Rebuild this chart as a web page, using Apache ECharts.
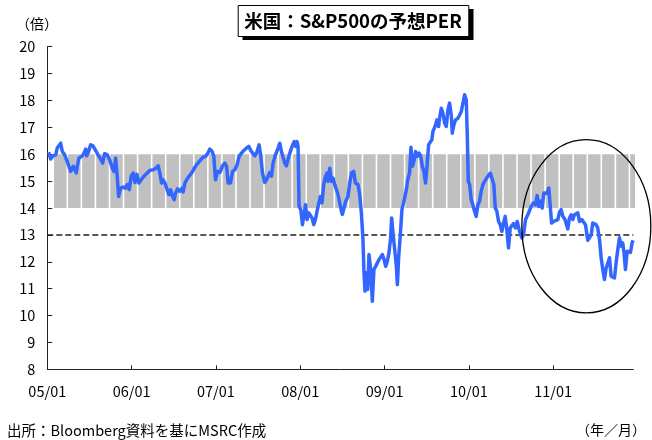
<!DOCTYPE html>
<html><head><meta charset="utf-8">
<script src="https://cdn.jsdelivr.net/npm/echarts@6/dist/echarts.min.js"></script>
<style>html,body{margin:0;padding:0;background:#fff}#c{width:652px;height:440px}</style>
</head><body><div id="c"></div><script>
// time as decimal year (weekly-ish readings)
const t = [
2005.017,2005.040,2005.068,2005.100,2005.118,2005.159,2005.178,2005.206,2005.237,2005.277,2005.308,2005.344,2005.355,2005.376,2005.415,2005.435,2005.455,2005.467,2005.486,2005.514,2005.541,2005.573,2005.601,2005.633,2005.656,2005.680,2005.711,2005.739,2005.770,2005.790,2005.810,2005.829,2005.846,2005.870,2005.900,2005.924,2005.948,2005.972,2005.995,
2006.019,2006.039,2006.063,2006.086,2006.114,2006.146,2006.185,2006.217,2006.256,2006.288,2006.315,2006.335,2006.355,2006.374,2006.395,2006.415,2006.442,2006.462,2006.481,2006.505,2006.521,2006.545,2006.572,2006.600,2006.611,2006.632,2006.652,2006.682,2006.711,2006.738,2006.770,2006.797,2006.817,2006.848,2006.877,2006.900,2006.928,2006.955,2006.975,2006.995,
2007.019,2007.046,2007.078,2007.105,2007.126,2007.145,2007.173,2007.197,2007.224,2007.251,2007.275,2007.303,2007.331,2007.363,2007.390,2007.413,2007.433,2007.461,2007.481,2007.512,2007.532,2007.552,2007.579,2007.600,2007.618,2007.639,2007.659,2007.678,2007.706,2007.737,2007.757,2007.777,2007.796,2007.816,2007.836,2007.855,2007.876,2007.903,2007.927,2007.947,2007.962,2007.974,2007.986,
2008.006,2008.026,2008.042,2008.062,2008.081,2008.101,2008.121,2008.140,2008.160,2008.180,2008.199,2008.219,2008.239,2008.258,2008.278,2008.299,2008.318,2008.329,2008.350,2008.370,2008.389,2008.409,2008.429,2008.448,2008.468,2008.488,2008.500,2008.519,2008.539,2008.566,2008.587,2008.607,2008.634,2008.654,2008.685,2008.705,2008.725,2008.744,2008.756,2008.768,2008.784,2008.800,2008.815,2008.835,2008.855,2008.874,2008.894,2008.914,2008.934,2008.954,2008.974,2008.993,
2009.013,2009.033,2009.052,2009.072,2009.084,2009.100,2009.120,2009.140,2009.152,2009.167,2009.187,2009.206,2009.230,2009.258,2009.277,2009.297,2009.313,2009.329,2009.348,2009.368,2009.388,2009.408,2009.427,2009.447,2009.467,2009.486,2009.502,2009.522,2009.542,2009.561,2009.573,2009.593,2009.605,2009.621,2009.641,2009.652,2009.673,2009.692,2009.712,2009.732,2009.751,2009.771,2009.791,2009.803,2009.822,2009.842,2009.870,2009.890,2009.910,2009.929,2009.949,2009.969,2009.981,2009.993,
2010.009,2010.028,2010.047,2010.067,2010.087,2010.107,2010.126,2010.146,2010.166,2010.186,2010.206,2010.225,2010.254,2010.277,2010.296,2010.313,2010.332,2010.352,2010.372,2010.391,2010.411,2010.431,2010.450,2010.470,2010.490,2010.509,2010.529,2010.553,2010.573,2010.601,2010.628,2010.648,2010.672,2010.699,2010.719,2010.739,2010.766,2010.790,2010.810,2010.829,2010.849,2010.869,2010.889,2010.908,2010.928,2010.948,2010.964,2010.981,
2011.005,2011.028,2011.055,2011.075,2011.095,2011.114,2011.140,2011.173,2011.193,2011.213,2011.232,2011.252,2011.273,2011.292,2011.312,2011.339,2011.359,2011.383,2011.410,2011.431,2011.451,2011.469,2011.490,2011.509,2011.528,2011.549,2011.569,2011.588,2011.608,2011.628,2011.648,2011.668,2011.687,2011.707,2011.727,2011.746,2011.766,2011.786,2011.806,2011.825,2011.841,2011.857,2011.877,2011.896,2011.916,2011.936,2011.948
];
// forward PER (times)
const per = [
16.07,15.82,15.94,15.98,16.23,16.41,16.10,15.98,15.73,15.36,15.55,15.30,15.55,15.86,15.94,16.04,16.19,15.94,16.07,16.35,16.31,16.14,15.98,15.82,15.67,16.02,15.98,15.79,15.49,15.36,15.86,15.18,14.43,14.74,14.78,14.74,14.87,14.68,15.18,
15.30,14.95,15.25,14.93,15.05,15.18,15.30,15.40,15.42,15.48,15.57,15.30,14.93,15.05,14.93,14.74,14.50,14.68,14.46,14.31,14.56,14.71,14.62,14.74,14.60,14.93,15.05,15.18,15.30,15.45,15.61,15.71,15.68,15.89,15.92,16.02,16.19,16.10,15.92,15.05,
15.36,15.32,15.57,15.67,15.55,14.93,14.93,15.36,15.42,15.61,15.92,16.04,16.14,16.23,16.29,16.14,16.19,15.94,16.04,16.35,15.92,15.30,14.95,15.05,15.18,15.32,15.18,15.67,15.98,16.23,16.41,16.10,16.14,15.67,15.57,15.80,16.04,16.29,16.47,16.29,16.47,16.29,14.06,
13.94,13.38,13.69,14.12,13.57,13.82,13.78,13.63,13.38,13.57,13.88,13.82,14.43,14.19,14.87,15.18,15.30,14.99,15.48,14.99,15.11,14.87,14.80,14.50,14.19,13.88,13.76,14.00,14.25,14.43,14.93,15.30,15.36,14.93,14.87,14.50,13.82,12.83,11.59,10.91,11.59,10.97,12.27,11.71,10.53,11.71,11.83,11.83,12.08,12.02,12.27,12.10,
11.83,12.02,12.33,12.89,13.63,13.07,12.45,11.83,11.15,12.15,13.01,13.94,14.25,14.68,15.08,15.30,16.26,15.55,15.73,16.10,15.92,16.04,15.95,15.55,15.36,14.93,15.48,16.35,16.45,16.54,16.84,16.91,17.09,17.28,17.03,17.34,17.71,17.53,17.16,17.03,17.65,17.90,17.46,16.78,17.09,17.28,17.34,17.46,17.59,17.65,18.21,18.02,16.72,14.99,
14.87,14.31,14.12,13.88,13.69,14.12,14.25,14.62,14.87,14.99,15.05,15.18,15.30,15.30,14.87,14.00,13.88,13.50,13.38,13.13,13.44,13.69,13.19,12.52,13.26,13.30,13.42,13.26,13.50,13.13,12.89,13.01,13.57,13.75,13.72,14.06,14.19,14.12,14.46,14.06,14.25,14.00,14.56,14.62,14.55,14.74,14.80,13.44,
13.50,13.44,13.57,13.84,13.94,13.69,13.57,13.22,13.63,13.75,13.57,13.75,13.69,13.82,13.50,13.57,13.50,13.38,12.80,12.76,13.00,13.44,13.50,13.38,13.26,12.83,12.15,11.71,11.34,11.77,11.70,12.15,11.46,11.40,11.40,11.96,12.45,12.89,12.58,12.70,12.30,11.71,12.39,12.45,12.35,12.70,12.80
];
const xTickYears = [2005,2006,2007,2008,2009,2010,2011];
const xTickLabels = ['05/01','06/01','07/01','08/01','09/01','10/01','11/01'];
const yTicks = [8,9,10,11,12,13,14,15,16,17,18,19,20];
const refLevel = 13;
const bandLow = 14, bandHigh = 16;
const bandFirst = 2005.154, bandStep = 1/6, bandCount = 42;   // bimonthly grey columns
const circleNote = [2011.393, 13.32, 0.765, 3.22];           // centre (yr, PER), radii (yr, PER)
const xMin = 2005, xMax = 2011.95;

const lineData = t.map((x, i) => [x, per[i]]);
const bandData = [];
for (let k = 0; k < bandCount; k++) bandData.push([bandFirst + k * bandStep, bandLow, bandHigh]);

const FONT = '"Noto Sans CJK JP", "Liberation Sans", sans-serif';
const chart = echarts.init(document.getElementById('c'), null, {renderer: 'canvas'});
chart.setOption({
  animation: false,
  backgroundColor: '#fff',
  grid: {left: 47.3, right: 18.7, top: 46.7, bottom: 70.7, containLabel: false},
  xAxis: {
    type: 'value', min: xMin, max: xMax, interval: 1,
    axisLine: {show: true, lineStyle: {color: '#222', width: 1}},
    axisTick: {show: true, inside: true, length: 4, lineStyle: {color: '#222'}, customValues: xTickYears},
    axisLabel: {customValues: xTickYears, margin: 15, color: '#000', fontSize: 14.5, fontFamily: FONT,
      formatter: v => { const i = xTickYears.indexOf(Math.round(v)); return i >= 0 ? xTickLabels[i] : ''; }},
    splitLine: {show: false}
  },
  yAxis: {
    type: 'value', min: 8, max: 20, interval: 1,
    axisLine: {show: true, lineStyle: {color: '#222', width: 1}},
    axisTick: {show: true, inside: true, length: 5, lineStyle: {color: '#222'}},
    axisLabel: {margin: 12, color: '#000', fontSize: 14.5, fontFamily: FONT,
      formatter: v => yTicks.includes(v) ? String(v) : ''},
    splitLine: {show: false}
  },
  series: [
    {
      type: 'custom', z: 1, silent: true,
      encode: {x: 0, y: [1, 2]},
      data: bandData,
      renderItem: (params, api) => {
        const c = api.value(0);
        const p1 = api.coord([c - bandStep / 2, api.value(2)]);
        const p2 = api.coord([c + bandStep / 2, api.value(1)]);
        const gap = 1.6;
        const cs = params.coordSys;
        const rect = echarts.graphic.clipRectByRect(
          {x: p1[0] + gap / 2, y: p1[1], width: p2[0] - p1[0] - gap, height: p2[1] - p1[1]},
          {x: cs.x, y: cs.y, width: cs.width + 1.7, height: cs.height});
        return rect ? {type: 'rect', shape: rect, style: {fill: '#c0c0c0'}} : null;
      }
    },
    {
      type: 'line', z: 3, silent: true, symbol: 'none',
      data: [[xMin, refLevel], [xMax, refLevel]],
      lineStyle: {color: '#222', width: 1.5, type: [6, 3]}
    },
    {
      type: 'line', z: 5, silent: true, symbol: 'none',
      data: lineData,
      lineStyle: {color: '#3366ff', width: 3.5, join: 'round'}
    },
    {
      type: 'custom', z: 6, silent: true, clip: false,
      encode: {x: 0, y: 1},
      data: [circleNote],
      renderItem: (params, api) => {
        const c = api.coord([api.value(0), api.value(1)]);
        const s = api.size([api.value(2), api.value(3)]);
        return {type: 'ellipse', shape: {cx: c[0], cy: c[1], rx: s[0], ry: s[1]},
          style: {fill: null, stroke: '#000', lineWidth: 1.3}};
      }
    }
  ],
  graphic: [
    {type: 'rect', left: 242.5, top: 9, shape: {width: 231, height: 31}, style: {fill: '#000'}, z: 10},
    {type: 'rect', left: 237.7, top: 5, shape: {width: 230.6, height: 31}, style: {fill: '#fff', stroke: '#000', lineWidth: 1}, z: 11},
    {type: 'text', x: 353, y: 21, z: 12, style: {text: '米国：S&P500の予想PER', font: 'bold 18.5px ' + FONT, fill: '#000', align: 'center', verticalAlign: 'middle'}},
    {type: 'text', x: 16, y: 23.5, z: 12, style: {text: '（倍）', font: '14px ' + FONT, fill: '#000', align: 'left', verticalAlign: 'middle'}},
    {type: 'text', x: 7, y: 430, z: 12, style: {text: '出所：Bloomberg資料を基にMSRC作成', font: '14.5px ' + FONT, fill: '#000', align: 'left', verticalAlign: 'middle'}},
    {type: 'text', x: 646, y: 430, z: 12, style: {text: '（年／月）', font: '14px ' + FONT, fill: '#000', align: 'right', verticalAlign: 'middle'}}
  ]
});
</script></body></html>
